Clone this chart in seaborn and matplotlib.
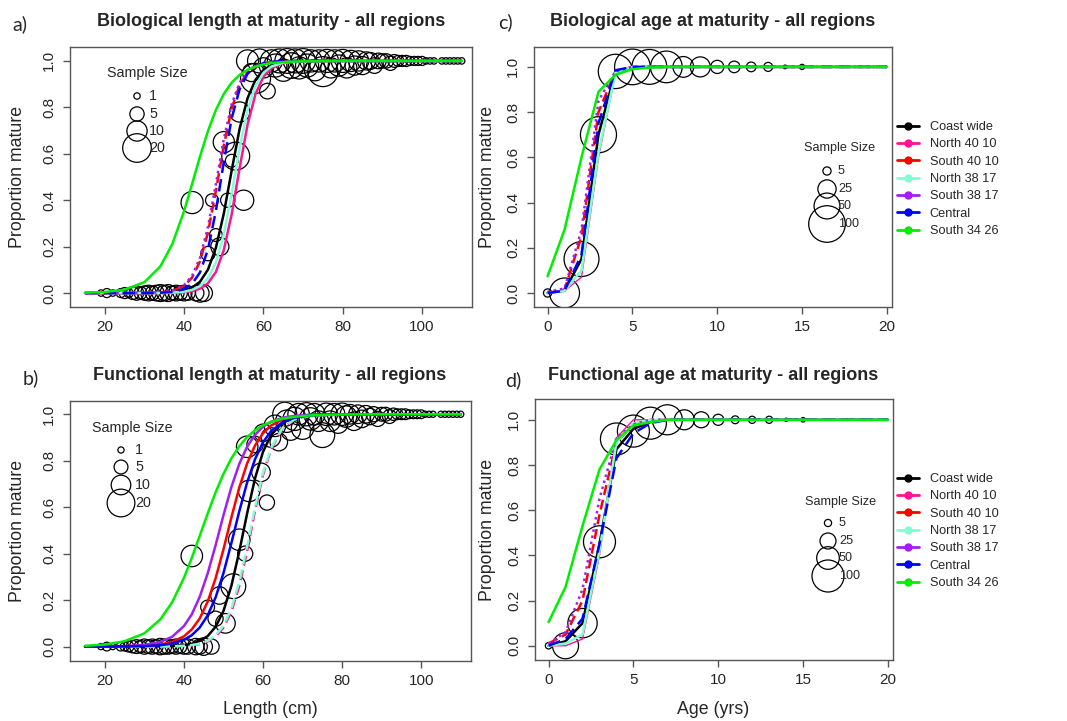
import matplotlib
matplotlib.use("Agg")
import matplotlib.pyplot as plt
from matplotlib.lines import Line2D
import seaborn as sns

# ---------------- data ----------------
regions = ["Coast wide", "North 40 10", "South 40 10", "North 38 17",
           "South 38 17", "Central", "South 34 26"]

# fitted curves, length panels (values read at these lengths)
len_grid = [15, 20, 25, 30, 34, 37, 40, 42, 44, 46, 48, 50, 52, 54, 56, 58,
            60, 62, 65, 68, 72, 80, 90, 110]

bio_len_coast = [0, 0, 0, 0.0002, 0.001, 0.0035, 0.011, 0.023, 0.049, 0.101, 0.195, 0.343,
                 0.530, 0.709, 0.840, 0.919, 0.961, 0.981, 0.994, 0.998, 1, 1, 1, 1]
bio_len_n4010 = [0, 0, 0, 0, 0.0003, 0.001, 0.0038, 0.0085, 0.019, 0.042, 0.091, 0.186,
                 0.341, 0.540, 0.727, 0.858, 0.932, 0.969, 0.991, 0.997, 0.999, 1, 1, 1]
bio_len_s4010 = [0, 0, 0.0001, 0.0006, 0.0029, 0.0096, 0.031, 0.067, 0.137, 0.261, 0.440, 0.636,
                 0.796, 0.897, 0.951, 0.977, 0.990, 0.995, 0.9986, 0.9996, 1, 1, 1, 1]
bio_len_n3817 = [0, 0, 0, 0.0001, 0.0006, 0.0019, 0.0062, 0.014, 0.030, 0.064, 0.132, 0.254,
                 0.430, 0.627, 0.789, 0.893, 0.949, 0.976, 0.993, 0.998, 0.9995, 1, 1, 1]
bio_len_s3817 = [0, 0, 0.0001, 0.0007, 0.0033, 0.011, 0.035, 0.074, 0.152, 0.285, 0.470, 0.664,
                 0.815, 0.907, 0.956, 0.980, 0.991, 0.996, 0.9987, 1, 1, 1, 1, 1]
bio_len_central = [0, 0, 0, 0.0002, 0.0013, 0.0048, 0.017, 0.040, 0.089, 0.188, 0.354, 0.565,
                   0.754, 0.879, 0.945, 0.976, 0.990, 0.996, 0.9988, 1, 1, 1, 1, 1]
bio_len_s3426 = [0.0014, 0.0045, 0.015, 0.047, 0.115, 0.211, 0.354, 0.470, 0.589, 0.698, 0.789, 0.858,
                 0.907, 0.940, 0.962, 0.976, 0.985, 0.991, 0.995, 0.998, 0.999, 1, 1, 1]

fun_len_coast = [0, 0, 0, 0.0002, 0.0009, 0.0023, 0.0063, 0.012, 0.024, 0.045, 0.085, 0.153,
                 0.261, 0.409, 0.574, 0.725, 0.838, 0.910, 0.965, 0.987, 0.9965, 0.9998, 1, 1]
fun_len_n4010 = [0, 0, 0, 0.0001, 0.0004, 0.001, 0.0028, 0.0056, 0.011, 0.022, 0.043, 0.082,
                 0.151, 0.261, 0.413, 0.587, 0.739, 0.849, 0.940, 0.978, 0.994, 0.9996, 1, 1]
fun_len_s4010 = [0, 0.0002, 0.0007, 0.0029, 0.0088, 0.020, 0.044, 0.074, 0.121, 0.193, 0.293, 0.418,
                 0.555, 0.684, 0.789, 0.866, 0.918, 0.951, 0.978, 0.990, 0.9967, 0.9996, 1, 1]
fun_len_n3817 = [0, 0, 0, 0.0001, 0.0004, 0.0012, 0.0033, 0.0065, 0.013, 0.025, 0.048, 0.090,
                 0.164, 0.279, 0.433, 0.601, 0.748, 0.854, 0.942, 0.978, 0.994, 0.9996, 1, 1]
fun_len_s3817 = [0.0001, 0.0005, 0.0019, 0.0071, 0.020, 0.042, 0.088, 0.139, 0.214, 0.314, 0.435, 0.565,
                 0.686, 0.786, 0.861, 0.912, 0.946, 0.967, 0.985, 0.993, 0.9975, 0.9997, 1, 1]
fun_len_central = [0, 0.0001, 0.0005, 0.0019, 0.0057, 0.013, 0.029, 0.049, 0.082, 0.134, 0.211, 0.316,
                   0.445, 0.582, 0.707, 0.807, 0.879, 0.926, 0.966, 0.985, 0.995, 0.9994, 1, 1]
fun_len_s3426 = [0.0034, 0.0088, 0.023, 0.057, 0.116, 0.190, 0.295, 0.382, 0.476, 0.572, 0.663, 0.743,
                 0.810, 0.862, 0.902, 0.931, 0.952, 0.967, 0.981, 0.989, 0.995, 0.999, 1, 1]

# fitted curves, age panels
age_grid = [0, 1, 2, 3, 4, 5, 6, 7, 20]

bio_age_coast = [0.0, 0.01, 0.15, 0.70, 0.98, 0.995, 1.0, 1.0, 1.0]
bio_age_n4010 = [0.0, 0.01, 0.07, 0.60, 0.97, 1.0, 1.0, 1.0, 1.0]
bio_age_s4010 = [0.0, 0.015, 0.25, 0.80, 0.98, 1.0, 1.0, 1.0, 1.0]
bio_age_n3817 = [0.0, 0.01, 0.10, 0.62, 0.975, 1.0, 1.0, 1.0, 1.0]
bio_age_s3817 = [0.005, 0.02, 0.28, 0.85, 0.98, 1.0, 1.0, 1.0, 1.0]
bio_age_central = [0.0, 0.01, 0.17, 0.75, 0.985, 1.0, 1.0, 1.0, 1.0]
bio_age_s3426 = [0.074, 0.28, 0.60, 0.89, 0.965, 0.99, 0.997, 1.0, 1.0]

fun_age_coast = [0.0, 0.02, 0.10, 0.45, 0.87, 0.96, 0.99, 1.0, 1.0]
fun_age_n4010 = [0.0, 0.0, 0.03, 0.40, 0.92, 1.0, 1.0, 1.0, 1.0]
fun_age_s4010 = [0.01, 0.05, 0.20, 0.58, 0.90, 0.98, 1.0, 1.0, 1.0]
fun_age_n3817 = [0.0, 0.01, 0.05, 0.42, 0.90, 0.985, 1.0, 1.0, 1.0]
fun_age_s3817 = [0.01, 0.06, 0.25, 0.65, 0.92, 0.98, 1.0, 1.0, 1.0]
fun_age_central = [0.0, 0.03, 0.12, 0.45, 0.83, 0.94, 0.985, 1.0, 1.0]
fun_age_s3426 = [0.105, 0.26, 0.53, 0.78, 0.91, 0.975, 0.99, 1.0, 1.0]

# observed proportions (bubbles), biological length
bio_obs_len = [19, 20.5, 22, 24, 25, 26, 27, 28, 29, 30, 31, 32, 33, 34, 35, 36, 37, 38, 39, 40, 41, 43, 44, 45,
               42, 46, 47, 48, 49, 50, 51, 52, 53, 54, 55, 56, 57, 58, 59, 60, 61, 62, 63, 64, 65, 66, 67, 68, 69, 70,
               71, 72, 73, 74, 75, 76, 77, 78, 79, 80, 81, 82, 83, 84, 85, 86, 87, 88, 89, 90, 91, 92, 93, 94, 95,
               96, 97, 98, 99, 100, 101, 102, 103, 105, 106, 107, 108, 109, 110]
bio_obs_p = [0] * 24 + \
            [0.39, 0.17, 0.40, 0.25, 0.20, 0.65, 0.40, 0.57, 0.59, 0.78, 0.40, 1.0, 0.95, 0.925, 1.0, 0.97, 0.87,
             1.0, 0.98, 1.0, 0.96, 1.0, 0.98, 1.0, 0.97, 1.0,
             0.98, 1.0, 0.96, 1.0, 0.954, 1.0, 0.97, 1.0, 0.98, 1.0, 0.97, 1.0, 0.98, 1.0, 0.98, 1.0, 1.0, 0.98,
             1.0, 1.0, 1.0, 0.99, 1.0, 1.0, 1.0] + [1.0] * 14
bio_obs_n = [1, 2, 1, 2, 3, 2, 4, 5, 4, 5, 6, 5, 6, 7, 6, 7, 5, 6, 5, 6, 5, 6, 8, 7,
             12, 5, 4, 4, 8, 11, 5, 4, 19, 10, 10, 12, 8, 22, 14, 10, 6, 12, 13, 14, 12, 15, 16, 14, 12, 15,
             13, 12, 11, 12, 22, 13, 10, 12, 11, 13, 10, 11, 9, 10, 8, 8, 7, 6, 6, 5, 5, 5, 4, 3, 3,
             3, 2, 2, 2, 2, 1, 1, 1, 1, 1, 1, 1, 1, 1]

# observed proportions (bubbles), functional length
fun_obs_len = [19, 20.5, 22, 24, 25, 26, 27, 28, 29, 30, 31, 32, 33, 34, 35, 36, 37, 38, 39, 40, 41, 43, 44, 45, 47,
               42, 46, 48, 49, 50.5, 52.5, 54, 55.5, 56, 56.5, 58, 59.5, 60, 61, 62, 63, 64, 65.5, 66, 67, 68, 69,
               70, 71, 72, 73, 74, 75, 76, 77, 78, 79, 80, 81, 82, 83, 84, 85, 86, 87, 88, 89, 90, 91, 92, 93,
               94, 95, 96, 97, 98, 99, 100, 101, 102, 103, 105, 106, 107, 108, 109, 110]
fun_obs_p = [0] * 25 + \
            [0.39, 0.17, 0.12, 0.22, 0.10, 0.26, 0.46, 0.40, 0.86, 0.67, 0.87, 0.75, 0.92, 0.62, 0.90, 0.95, 0.88,
             1.0, 0.97, 0.93, 0.98, 1.0,
             0.94, 1.0, 0.98, 1.0, 0.97, 0.91, 1.0, 0.97, 1.0, 0.96, 1.0, 0.99, 1.0, 0.97, 1.0, 0.98, 1.0, 0.99,
             1.0, 0.98, 1.0, 1.0, 0.99, 1.0, 1.0, 1.0] + [1.0] * 14
fun_obs_n = [1, 2, 1, 2, 2, 3, 4, 5, 4, 6, 5, 6, 5, 7, 6, 6, 5, 6, 5, 6, 6, 7, 6, 8, 6,
             12, 5, 6, 8, 10, 16, 12, 6, 12, 12, 7, 9, 8, 6, 10, 12, 8, 15, 13, 10, 14, 12,
             13, 14, 13, 12, 11, 16, 13, 11, 12, 10, 13, 12, 10, 9, 9, 8, 8, 7, 6, 6, 5, 5, 5, 4,
             3, 3, 3, 2, 2, 2, 2, 1, 1, 1, 1, 1, 1, 1, 1, 1]

# observed proportions (bubbles), ages
obs_age = [0, 1, 2, 3, 4, 5, 6, 7, 8, 9, 10, 11, 12, 13, 14, 15]
bio_age_p = [0.0, 0.0, 0.15, 0.70, 0.98, 1.0, 1.0, 1.0, 1.0, 1.0, 1.0, 1.0, 1.0, 1.0, 1.0, 1.0]
bio_age_n = [5, 67, 91, 97, 88, 95, 91, 75, 32, 30, 13, 10, 7, 6, 1, 2]
fun_age_p = [0.0, 0.0, 0.10, 0.46, 0.915, 0.95, 0.985, 1.0, 1.0, 1.0, 1.0, 1.0, 1.0, 1.0, 1.0, 1.0]
fun_age_n = [4, 66, 84, 100, 100, 100, 100, 88, 39, 25, 12, 6, 5, 5, 1, 2]

len_key_sizes = [1, 5, 10, 20]
age_key_sizes = [5, 25, 50, 100]

# ---------------- style ----------------
colors = ["black", "#FF1493", "#FF0000", "#7FFFD4", "#A020F0", "#0000FF", "#00EE00"]
W, H = 1067, 721

sns.set_style("white")
plt.rcParams['font.family'] = ['Liberation Sans', 'DejaVu Sans']

fig = plt.figure(figsize=(W / 100, H / 100), dpi=100)


def fx(px):
    return px / W


def fy(py):
    return 1 - py / H


def rect(left, top, right, bottom):
    return [fx(left), fy(bottom), (right - left) / W, (bottom - top) / H]


def style_axes(ax, xlim, ylim, xticks):
    ax.set_xlim(*xlim)
    ax.set_ylim(*ylim)
    ax.set_xticks(xticks)
    ax.set_xticklabels([str(t) for t in xticks], fontsize=11)
    yt = [0, 0.2, 0.4, 0.6, 0.8, 1.0]
    ax.set_yticks(yt)
    ax.set_yticklabels([f"{t:.1f}" for t in yt], rotation=90, va="center", fontsize=11)
    for sp in ax.spines.values():
        sp.set_visible(True)
        sp.set_color("#555555")
        sp.set_linewidth(1)
    ax.tick_params(axis="both", which="major", direction="out", length=5, width=1,
                   color="#555555", bottom=True, left=True, top=False, right=False)
    ax.tick_params(axis="x", pad=4.5)
    ax.tick_params(axis="y", pad=5)
    ax.set_xlabel("")
    ax.set_ylabel("")


def draw_bubbles(ax, x, p, n, scale):
    sns.scatterplot(x=x, y=p, size=n, sizes={v: scale * v for v in set(n)},
                    facecolor="none", edgecolor="black", linewidth=0.9,
                    legend=False, ax=ax, zorder=1)


def draw_curves(ax, xgrid, series, styles, widths):
    for ys, c, ls, lw in zip(series, colors, styles, widths):
        sns.lineplot(x=xgrid, y=ys, color=c, linestyle=ls, linewidth=lw,
                     estimator=None, sort=False, legend=False, ax=ax, zorder=3)


def size_key(ax, vals, scale, title_xy, circ_x, ys, lab_x, fs):
    fig.text(fx(title_xy[0]), fy(title_xy[1]), "Sample Size", ha="center", va="center", fontsize=fs)
    for v, y in zip(vals, ys):
        ax.scatter([fx(circ_x)], [fy(y)], s=scale * v, transform=fig.transFigure,
                   facecolor="none", edgecolor="black", linewidth=0.9, clip_on=False)
        fig.text(fx(lab_x), fy(y), str(v), ha="left", va="center", fontsize=fs)


dot = (0, (1, 1.5))
dash_r = (0, (4, 2))
dash_b = (0, (5, 2.5))
lw = 1.8

# panel a
ax_a = fig.add_axes(rect(70, 47, 472, 307))
draw_bubbles(ax_a, bio_obs_len, bio_obs_p, bio_obs_n, 21.2)
draw_curves(ax_a, len_grid,
            [bio_len_coast, bio_len_n4010, bio_len_s4010, bio_len_n3817, bio_len_s3817, bio_len_central, bio_len_s3426],
            ["-", "-", dash_r, "-", dot, dash_b, "-"], [lw] * 7)
style_axes(ax_a, (11.2, 112.6), (-0.060, 1.060), [20, 40, 60, 80, 100])
size_key(ax_a, len_key_sizes, 21.2, (147, 73), 137, [96, 114, 131, 148], 149, 10.3)

# panel b
ax_b = fig.add_axes(rect(70, 401, 471, 661))
draw_bubbles(ax_b, fun_obs_len, fun_obs_p, fun_obs_n, 19.9)
draw_curves(ax_b, len_grid,
            [fun_len_coast, fun_len_n4010, fun_len_s4010, fun_len_n3817, fun_len_s3817, fun_len_central, fun_len_s3426],
            ["-", dash_r, "-", dash_r, "-", "-", "-"], [lw] * 7)
style_axes(ax_b, (11.2, 112.6), (-0.062, 1.057), [20, 40, 60, 80, 100])
size_key(ax_b, len_key_sizes, 19.9, (132, 428), 121, [450, 467, 485, 503], 135, 10.3)

# panel c
ax_c = fig.add_axes(rect(534, 47, 892, 307))
draw_bubbles(ax_c, obs_age, bio_age_p, bio_age_n, 6.94)
draw_curves(ax_c, age_grid,
            [bio_age_coast, bio_age_n4010, bio_age_s4010, bio_age_n3817, bio_age_s3817, bio_age_central, bio_age_s3426],
            ["-", "-", dash_r, "-", dot, dash_b, "-"], [lw, 1.0, lw, lw, lw, lw, lw])
style_axes(ax_c, (-0.8, 20.3), (-0.062, 1.088), [0, 5, 10, 15, 20])
size_key(ax_c, age_key_sizes, 6.94, (840, 148), 827, [171, 189, 206, 224], 838, 9.1)

# panel d
ax_d = fig.add_axes(rect(535, 399, 893, 660))
draw_bubbles(ax_d, obs_age, fun_age_p, fun_age_n, 5.31)
draw_curves(ax_d, age_grid,
            [fun_age_coast, fun_age_n4010, fun_age_s4010, fun_age_n3817, fun_age_s3817, fun_age_central, fun_age_s3426],
            ["-", "-", dash_r, "-", dot, dash_b, "-"], [lw, 1.0, lw, lw, lw, lw, lw])
style_axes(ax_d, (-0.8, 20.3), (-0.063, 1.092), [0, 5, 10, 15, 20])
size_key(ax_d, age_key_sizes, 5.31, (841, 502), 828, [523, 541, 558, 576], 839, 9.1)

# titles, panel letters, axis labels
for (cx, cy), t in zip([(271, 22), (270, 376), (713, 22), (713, 375)],
                       ["Biological length at maturity - all regions",
                        "Functional length at maturity - all regions",
                        "Biological age at maturity - all regions",
                        "Functional age at maturity - all regions"]):
    fig.text(fx(cx), fy(cy), t, ha="center", va="center", fontsize=13, fontweight="bold")

for (cx, cy), t in zip([(20, 24), (31, 378), (505, 22), (513, 380)], ["a)", "b)", "c)", "d)"]):
    fig.text(fx(cx), fy(cy), t, ha="center", va="center", fontsize=14, family=["Lato", "DejaVu Sans"])

for cx, cy in [(18, 177), (18, 531), (488, 177), (488, 530)]:
    fig.text(fx(cx), fy(cy), "Proportion mature", rotation=90, ha="center", va="center", fontsize=12.8)
fig.text(fx(270), fy(710), "Length (cm)", ha="center", va="center", fontsize=12.8)
fig.text(fx(713), fy(710), "Age (yrs)", ha="center", va="center", fontsize=12.8)

# region legends
handles = [Line2D([], [], color=c, lw=2, marker="o", markersize=5) for c in colors]
for top in [121, 473]:
    fig.legend(handles, regions, loc="upper left", bbox_to_anchor=(fx(897), fy(top)),
               frameon=False, fontsize=9.2, handlelength=1.7, handletextpad=0.85,
               labelspacing=0.42, borderpad=0, borderaxespad=0, numpoints=1)

fig.savefig("out.png", dpi=100)
